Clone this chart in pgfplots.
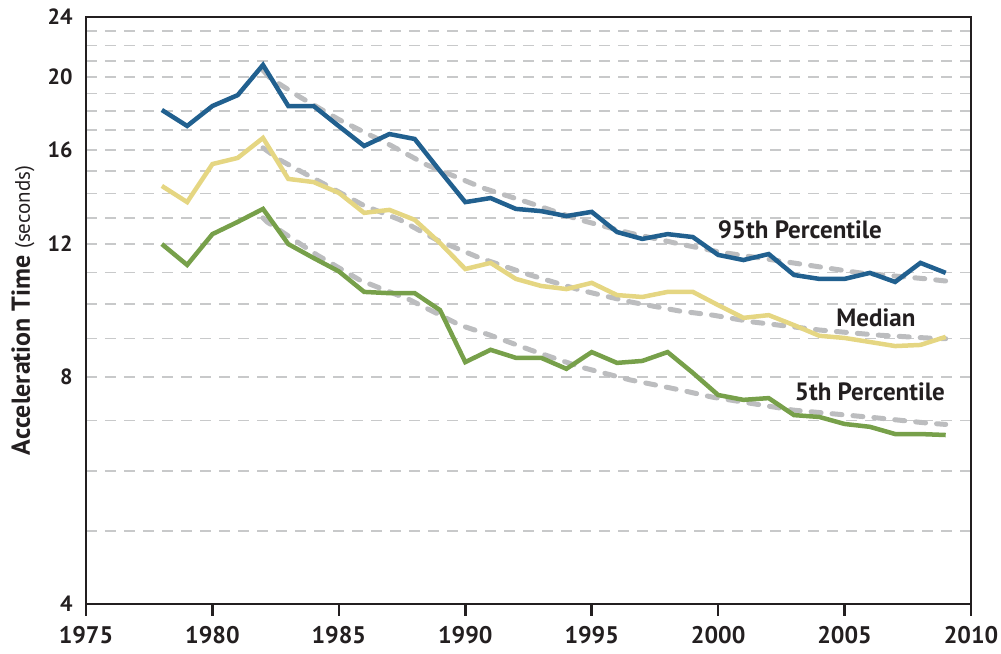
\documentclass[border=0pt]{standalone}
\usepackage{fontspec}
\setmainfont{PT Sans}
\usepackage{pgfplots}
\pgfplotsset{compat=1.18}
\definecolor{c95}{HTML}{21608F}
\definecolor{cmed}{HTML}{E5D682}
\definecolor{c5}{HTML}{77A04A}
\definecolor{trendc}{HTML}{BCBDBF}
\definecolor{gridc}{HTML}{C8C9CA}
\definecolor{axisc}{HTML}{231F20}
\begin{document}
\begin{tikzpicture}
\begin{axis}[
  scale only axis, width=885bp, height=587bp,
  ymode=log, ymin=4, ymax=24, xmin=1975, xmax=2010,
  ytick={4,8,12,16,20,24}, yticklabels={4,8,12,16,20,24},
  minor ytick={5,6,7,9,10,11,13,14,15,17,18,19,21,22,23},
  ymajorgrids, yminorgrids,
  major grid style={gridc, line width=1.6bp, dash pattern=on 11bp off 8bp},
  minor grid style={gridc, line width=1.6bp, dash pattern=on 11bp off 8bp},
  xtick={1975,1980,1985,1990,1995,2000,2005,2010},
  xticklabels={1975,1980,1985,1990,1995,2000,2005,2010},
  tick align=outside, xtick pos=bottom, ytick pos=left,
  major y tick style={draw=none}, minor y tick style={draw=none},
  major x tick style={axisc, line width=2.5bp},
  major tick length=12bp,
  axis line style={axisc, line width=2.5bp},
  x tick label style={font=\fontsize{24bp}{24bp}\selectfont\bfseries, text=axisc, yshift=-9bp, inner sep=1bp},
  y tick label style={font=\fontsize{22bp}{22bp}\selectfont\bfseries, text=axisc, xshift=2bp},
  ylabel={\fontsize{26bp}{26bp}\selectfont\bfseries Acceleration Time \fontsize{21bp}{21bp}\mdseries\selectfont(seconds)},
  ylabel style={at={(axis description cs:-0.0712,0.5)}, anchor=center, text=axisc},
  clip=false,
]
% trend lines
\addplot[trendc, line width=5bp, dash pattern=on 10bp off 11bp, line cap=round] coordinates {
(1982,20.4) (1982.28,19.92) (1983.46,18.80) (1985.04,17.52) (1987.02,16.24) (1988.48,15.28)
(1990.70,14.24) (1992.56,13.60) (1994.53,12.92) (1996.51,12.41) (1998.49,12.00) (2000.07,11.71)
(2002.96,11.33) (2005.60,10.99) (2008.25,10.79) (2009,10.72)};
\addplot[trendc, line width=5bp, dash pattern=on 10bp off 11bp, line cap=round] coordinates {
(1982,16.1) (1982.67,15.51) (1984.13,14.59) (1985.95,13.52) (1987.42,12.92) (1988.88,12.15)
(1990.58,11.50) (1992.56,10.92) (1994.53,10.43) (1996.51,10.06) (1998.49,9.78) (1999.79,9.66)
(2001.37,9.46) (2004.02,9.23) (2006.28,9.09) (2008.25,9.01) (2009,8.99)};
\addplot[trendc, line width=5bp, dash pattern=on 10bp off 11bp, line cap=round] coordinates {
(1982,13.0) (1982.16,12.84) (1984.13,11.61) (1985.83,10.75) (1987.81,10.12) (1989.79,9.37)
(1990.97,9.09) (1992.56,8.69) (1994.53,8.25) (1996.51,7.93) (1998.49,7.69) (1999.79,7.52)
(2002.96,7.23) (2006.28,7.06) (2008.25,6.95) (2009,6.92)};
% 95th percentile
\addplot[c95, line width=4.5bp, line join=miter] coordinates {
(1978,18.07) (1979,17.21) (1980,18.29) (1981,18.91) (1982,20.73) (1983,18.29) (1984,18.29)
(1985,17.20) (1986,16.19) (1987,16.79) (1988,16.54) (1989,15.00) (1990,13.64) (1991,13.81)
(1992,13.36) (1993,13.27) (1994,13.07) (1995,13.24) (1996,12.45) (1997,12.19) (1998,12.37)
(1999,12.26) (2000,11.61) (2001,11.43) (2002,11.64) (2003,10.92) (2004,10.79) (2005,10.79)
(2006,10.99) (2007,10.69) (2008,11.33) (2009,10.99)};
% median
\addplot[cmed, line width=4.5bp, line join=miter] coordinates {
(1978,14.33) (1979,13.64) (1980,15.32) (1981,15.61) (1982,16.59) (1983,14.64) (1984,14.50)
(1985,14.03) (1986,13.20) (1987,13.32) (1988,12.92) (1989,12.04) (1990,11.12) (1991,11.33)
(1992,10.79) (1993,10.56) (1994,10.46) (1995,10.66) (1996,10.27) (1997,10.21) (1998,10.37)
(1999,10.37) (2000,9.96) (2001,9.58) (2002,9.66) (2003,9.37) (2004,9.07) (2005,9.01)
(2006,8.90) (2007,8.79) (2008,8.82) (2009,9.04)};
% 5th percentile
\addplot[c5, line width=4.5bp, line join=miter] coordinates {
(1978,12.00) (1979,11.26) (1980,12.37) (1981,12.84) (1982,13.36) (1983,12.00) (1984,11.50)
(1985,11.04) (1986,10.37) (1987,10.33) (1988,10.33) (1989,9.81) (1990,8.37) (1991,8.69)
(1992,8.48) (1993,8.48) (1994,8.20) (1995,8.63) (1996,8.35) (1997,8.40) (1998,8.63)
(1999,8.10) (2000,7.57) (2001,7.46) (2002,7.50) (2003,7.12) (2004,7.08) (2005,6.93)
(2006,6.87) (2007,6.72) (2008,6.72) (2009,6.70)};
\node[font=\fontsize{25bp}{25bp}\selectfont\bfseries, text=axisc] at (axis cs:2003.23,12.53) {95th Percentile};
\node[font=\fontsize{25bp}{25bp}\selectfont\bfseries, text=axisc] at (axis cs:2006.24,9.58) {Median};
\node[font=\fontsize{25bp}{25bp}\selectfont\bfseries, text=axisc] at (axis cs:2006.0,7.64) {5th Percentile};
\end{axis}
\pgfresetboundingbox
\path ([xshift=-86bp,yshift=-50bp]current axis.south west) rectangle ++(1001bp,654bp);
\end{tikzpicture}
\end{document}
